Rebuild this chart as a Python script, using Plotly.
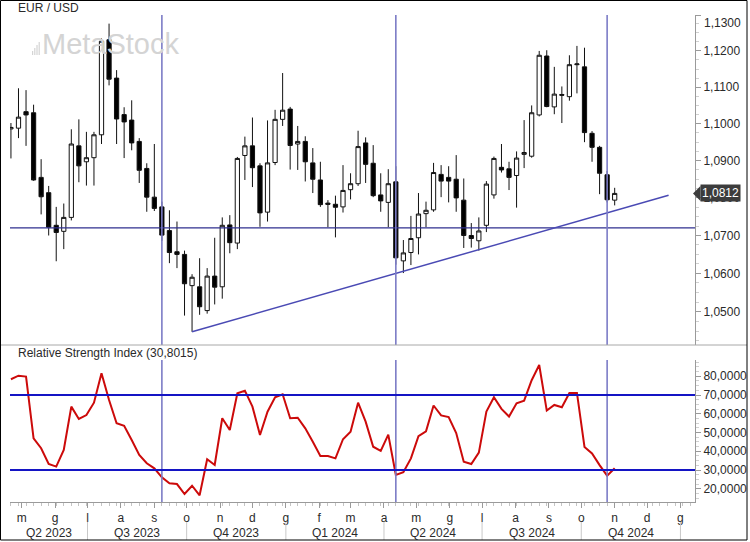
import math
import pandas as pd
import plotly.graph_objects as go

# ---------------- data ----------------
dates = pd.date_range('2023-04-21', periods=81, freq='7D')  # weekly bars (Friday)

open_ = [1.0986, 1.0988, 1.1033, 1.1030, 1.0855, 1.0814, 1.0727, 1.0711, 1.0748, 1.0940,
         1.0897, 1.0908, 1.0970, 1.1231, 1.1125, 1.1025, 1.1010, 1.0952, 1.0879, 1.0802,
         1.0776, 1.0713, 1.0657, 1.0650, 1.0568, 1.0565, 1.0503, 1.0593, 1.0565, 1.0728,
         1.0680, 1.0914, 1.0940, 1.0886, 1.0762, 1.0895, 1.1012, 1.1040, 1.0945, 1.0952,
         1.0894, 1.0848, 1.0786, 1.0783, 1.0776, 1.0822, 1.0838, 1.0948, 1.0893, 1.0808,
         1.0788, 1.0843, 1.0633, 1.0655, 1.0694, 1.0758, 1.0768, 1.0863, 1.0855, 1.0850,
         1.0794, 1.0700, 1.0686, 1.0727, 1.0808, 1.0882, 1.0878, 1.0860, 1.0917, 1.0912,
         1.1024, 1.1186, 1.1046, 1.1080, 1.1074, 1.1162, 1.1156, 1.0974, 1.0936, 1.0862,
         1.0794]
high = [1.1002, 1.1097, 1.1092, 1.1052, 1.0904, 1.0832, 1.0776, 1.0785, 1.0985, 1.1012,
        1.0978, 1.0978, 1.1235, 1.1276, 1.1147, 1.1045, 1.1064, 1.0961, 1.0893, 1.0945,
        1.0790, 1.0767, 1.0737, 1.0660, 1.0598, 1.0640, 1.0614, 1.0694, 1.0748, 1.0754,
        1.0910, 1.0965, 1.1017, 1.0893, 1.1009, 1.1038, 1.1139, 1.1046, 1.0994, 1.0966,
        1.0934, 1.0897, 1.0794, 1.0806, 1.0888, 1.0866, 1.0981, 1.0963, 1.0942, 1.0866,
        1.0877, 1.0885, 1.0688, 1.0752, 1.0813, 1.0790, 1.0894, 1.0888, 1.0885, 1.0915,
        1.0852, 1.0733, 1.0748, 1.0845, 1.0911, 1.0945, 1.0897, 1.0925, 1.1010, 1.1050,
        1.1200, 1.1202, 1.1156, 1.1102, 1.1188, 1.1214, 1.1209, 1.0980, 1.0940, 1.0872,
        1.0827]
low = [1.0906, 1.0961, 1.0940, 1.0846, 1.0756, 1.0700, 1.0632, 1.0664, 1.0740, 1.0842,
       1.0833, 1.0833, 1.0945, 1.1105, 1.0945, 1.0907, 1.0928, 1.0840, 1.0763, 1.0765,
       1.0686, 1.0627, 1.0614, 1.0490, 1.0448, 1.0492, 1.0495, 1.0519, 1.0534, 1.0653,
       1.0664, 1.0848, 1.0829, 1.0723, 1.0737, 1.0888, 1.0994, 1.0876, 1.0875, 1.0844,
       1.0813, 1.0776, 1.0722, 1.0695, 1.0761, 1.0796, 1.0832, 1.0840, 1.0802, 1.0763,
       1.0722, 1.0623, 1.0601, 1.0622, 1.0650, 1.0722, 1.0763, 1.0802, 1.0788, 1.0763,
       1.0667, 1.0668, 1.0660, 1.0709, 1.0798, 1.0868, 1.0821, 1.0774, 1.0880, 1.0908,
       1.1020, 1.1045, 1.1026, 1.1002, 1.1063, 1.1083, 1.0950, 1.0897, 1.0810, 1.0788,
       1.0780]
close = [1.0990, 1.1018, 1.1024, 1.0848, 1.0803, 1.0722, 1.0708, 1.0748, 1.0945, 1.0886,
         1.0908, 1.0970, 1.1227, 1.1122, 1.1013, 1.1005, 1.0948, 1.0874, 1.0802, 1.0772,
         1.0701, 1.0655, 1.0650, 1.0573, 1.0590, 1.0513, 1.0593, 1.0564, 1.0727, 1.0681,
         1.0906, 1.0940, 1.0881, 1.0760, 1.0894, 1.1012, 1.1037, 1.0941, 1.0952, 1.0897,
         1.0850, 1.0782, 1.0783, 1.0775, 1.0820, 1.0838, 1.0938, 1.0890, 1.0806, 1.0792,
         1.0838, 1.0641, 1.0654, 1.0692, 1.0757, 1.0767, 1.0868, 1.0845, 1.0845, 1.0800,
         1.0700, 1.0692, 1.0712, 1.0837, 1.0906, 1.0875, 1.0855, 1.0907, 1.0922, 1.1030,
         1.1188, 1.1047, 1.1081, 1.1078, 1.1162, 1.1164, 1.0976, 1.0936, 1.0866, 1.0795,
         1.0812]
rsi = [78.4, 80.3, 79.8, 46.9, 41.6, 33.2, 31.8, 40.7, 63.8, 57.2,
       59.3, 65.9, 81.6, 67.3, 54.9, 53.6, 46.0, 38.0, 33.6, 30.9,
       26.1, 22.9, 22.5, 17.2, 21.6, 16.5, 35.7, 32.7, 57.6, 51.3,
       70.9, 72.3, 63.8, 48.7, 61.1, 68.8, 70.4, 57.6, 57.9, 52.2,
       45.1, 37.5, 37.5, 36.2, 46.4, 50.4, 65.9, 55.8, 42.4, 40.2,
       48.9, 27.4, 28.8, 36.2, 48.1, 50.6, 64.4, 59.1, 58.2, 49.7,
       34.4, 33.2, 39.3, 61.2, 68.8, 62.6, 58.5, 65.6, 67.0, 77.9,
       86.0, 61.7, 64.7, 63.5, 71.1, 71.1, 42.3, 38.8, 32.6, 27.0,
       30.9]

month_ticks = pd.date_range('2023-05-01', '2025-01-01', freq='MS')
month_labels = ['m', 'g', 'l', 'a', 's', 'o', 'n', 'd', 'g', 'f', 'm',
                'a', 'm', 'g', 'l', 'a', 's', 'o', 'n', 'd', 'g']
quarter_labels = ['Q2 2023', 'Q3 2023', 'Q4 2023', 'Q1 2024', 'Q2 2024', 'Q3 2024', 'Q4 2024']
quarter_bounds = ['2023-04-20', '2023-07-01', '2023-10-01', '2024-01-01',
                  '2024-04-01', '2024-07-01', '2024-10-01', '2025-01-01']
price_ticks = [1.05, 1.06, 1.07, 1.08, 1.09, 1.10, 1.11, 1.12, 1.13]
price_minor = [1.04 + 0.0025 * i for i in range(37)]
rsi_ticks = [20, 30, 40, 50, 60, 70, 80]
rsi_minor = [12.5 + 2.5 * i for i in range(31)]
rsi_levels = [70, 30]
support_level = 1.072
trend_dates = ['2023-10-06', '2024-12-21']
trend_prices = [1.0448, 1.0807]
marker_dates = ['2023-09-08', '2024-04-12', '2024-10-25']

x_range = ['2023-04-20 03:00', '2025-01-14 12:00']
price_range = [1.04139, 1.13001]
rsi_range = [12.93, 88.67]

FONT = 'Liberation Sans, Arial, sans-serif'
TXT = '#2a2a2a'
AX = '#9a9a9a'


def fmt(v, nd):
    return f'{v:.{nd}f}'.replace('.', ',')


# plot area: x 10..695, y 15..502 (pixels)
W, H = 750, 542
ML, MR, MT, MB = 10, 55, 15, 40
PW, PH = W - ML - MR, H - MT - MB


def px(xp):
    return (xp - ML) / PW


def py(yp):
    return (H - MB - yp) / PH


price_domain = [py(345), 1]
lo, hi = math.log10(price_range[0]), math.log10(price_range[1])


def price_to_paper(p):
    f = (math.log10(p) - lo) / (hi - lo)
    return price_domain[0] + f * (price_domain[1] - price_domain[0])


fig = go.Figure()

fig.add_trace(go.Candlestick(
    x=dates, open=open_, high=high, low=low, close=close,
    xaxis='x', yaxis='y', whiskerwidth=0,
    increasing=dict(fillcolor='#ffffff', line=dict(color='#111111', width=1)),
    decreasing=dict(fillcolor='#000000', line=dict(color='#111111', width=1)),
    hoverinfo='skip'))

fig.add_trace(go.Scatter(x=x_range, y=[support_level, support_level], mode='lines',
                         line=dict(color='#2f2f8f', width=1.2), xaxis='x', yaxis='y',
                         hoverinfo='skip'))
fig.add_trace(go.Scatter(x=trend_dates, y=trend_prices, mode='lines',
                         line=dict(color='#4a4ab4', width=1.5), xaxis='x', yaxis='y',
                         hoverinfo='skip'))

fig.add_trace(go.Scatter(x=dates, y=rsi, mode='lines',
                         line=dict(color='#cc0a0a', width=2), xaxis='x2', yaxis='y2',
                         hoverinfo='skip'))

shapes = []
for d in marker_dates:
    shapes.append(dict(type='line', xref='x', yref='y domain', x0=d, x1=d, y0=0, y1=1,
                       line=dict(color='#7c7cc6', width=1.6)))
    shapes.append(dict(type='line', xref='x2', yref='y2 domain', x0=d, x1=d, y0=0, y1=1,
                       line=dict(color='#7c7cc6', width=1.6)))
for lv in rsi_levels:
    shapes.append(dict(type='line', xref='paper', yref='y2', x0=0, x1=1, y0=lv, y1=lv,
                       line=dict(color='#1414c4', width=2)))
# panel separator
shapes.append(dict(type='line', xref='paper', yref='paper', x0=px(0), x1=px(747),
                   y0=py(345), y1=py(345), line=dict(color='#a8a8a8', width=1)))
# quarter separators
for qb in quarter_bounds[1:]:
    shapes.append(dict(type='line', xref='x2', yref='paper', x0=qb, x1=qb,
                       y0=py(522), y1=py(540), line=dict(color='#c8c8c8', width=1)))
# outer border
shapes.append(dict(type='rect', xref='paper', yref='paper', x0=px(0.5), x1=px(747),
                   y0=py(540), y1=py(0.5), line=dict(color='#000000', width=1)))
# watermark bars icon
for i, hgt in enumerate([4, 7, 10, 13]):
    shapes.append(dict(type='rect', xref='paper', yref='paper',
                       x0=px(32 + i * 2.2), x1=px(33.2 + i * 2.2),
                       y0=py(55), y1=py(55 - hgt), line=dict(width=0),
                       fillcolor='#d4d4d4'))
# last-price tag pointer
yc = price_to_paper(close[-1])
dy = 7.5 / PH
shapes.append(dict(type='path', xref='paper', yref='paper',
                   path=f'M {px(693)},{yc} L {px(700.5)},{yc + dy} L {px(700.5)},{yc - dy} Z',
                   fillcolor='#3c3c3c', line=dict(width=0)))

annotations = [
    dict(text='EUR / USD', xref='paper', yref='paper', x=px(16), y=py(8),
         xanchor='left', yanchor='middle', showarrow=False,
         font=dict(family=FONT, size=12, color=TXT)),
    dict(text='Relative Strength Index (30,8015)', xref='paper', yref='paper',
         x=px(16), y=py(353), xanchor='left', yanchor='middle', showarrow=False,
         font=dict(family=FONT, size=12, color=TXT)),
    dict(text='MetaStock', xref='paper', yref='paper', x=px(40), y=py(44),
         xanchor='left', yanchor='middle', showarrow=False,
         font=dict(family=FONT, size=29, color='#d4d4d4')),
    dict(text=fmt(close[-1], 4), xref='paper', yref='y', x=px(700),
         y=math.log10(close[-1]), xanchor='left', yanchor='middle', showarrow=False,
         bgcolor='#3c3c3c', borderpad=1, font=dict(family=FONT, size=12, color='#ffffff')),
    dict(text=fmt(price_ticks[-1], 4), xref='paper', yref='paper', x=px(702), y=py(23),
         xanchor='left', yanchor='middle', showarrow=False,
         font=dict(family=FONT, size=12, color=TXT)),
]
for i, q in enumerate(quarter_labels):
    a = pd.Timestamp(quarter_bounds[i])
    b = pd.Timestamp(quarter_bounds[i + 1])
    mid = a + (b - a) / 2
    annotations.append(dict(text=q, xref='x2', yref='paper', x=mid.strftime('%Y-%m-%d %H:%M'),
                            y=py(533), xanchor='center', yanchor='middle', showarrow=False,
                            font=dict(family=FONT, size=12, color=TXT)))

price_text = [fmt(v, 4) for v in price_ticks[:-1]] + ['']

fig.update_layout(
    width=W, height=H, margin=dict(l=ML, r=MR, t=MT, b=MB, autoexpand=False),
    paper_bgcolor='#ffffff', plot_bgcolor='#ffffff', showlegend=False,
    boxgap=0.2, hovermode=False,
    font=dict(family=FONT, size=12, color=TXT),
    xaxis=dict(domain=[0, 1], anchor='y', range=x_range, type='date', matches='x2',
               showticklabels=False, showgrid=False, zeroline=False, showline=False,
               ticks='', rangeslider=dict(visible=False), automargin=False),
    yaxis=dict(domain=price_domain, anchor='x', type='log', range=[lo, hi],
               side='right', tickmode='array', tickvals=price_ticks,
               ticktext=price_text, automargin=False,
               ticks='outside', ticklen=5, tickcolor=AX, showline=True, linecolor=AX,
               showgrid=False, zeroline=False, tickfont=dict(size=12, color=TXT),
               minor=dict(tickvals=price_minor, ticks='outside', ticklen=3,
                          tickcolor='#d0d0d0', showgrid=False)),
    xaxis2=dict(domain=[0, 1], anchor='y2', range=x_range, type='date', automargin=False,
                tickmode='array', tickvals=list(month_ticks), ticktext=month_labels,
                ticks='outside', ticklen=5, tickcolor=AX, showline=True, linecolor=AX,
                showgrid=False, zeroline=False, tickfont=dict(size=12, color=TXT),
                minor=dict(tickmode='linear', tick0='2023-04-21', dtick=7 * 86400000,
                           ticks='outside', ticklen=3, tickcolor='#c4c4c4', showgrid=False)),
    yaxis2=dict(domain=[0, py(360)], anchor='x2', range=rsi_range, side='right',
                tickmode='array', tickvals=rsi_ticks, automargin=False,
                ticktext=[fmt(v, 4) for v in rsi_ticks],
                ticks='outside', ticklen=5, tickcolor=AX, showline=True, linecolor=AX,
                showgrid=False, zeroline=False, tickfont=dict(size=12, color=TXT),
                minor=dict(tickvals=rsi_minor, ticks='outside', ticklen=3,
                           tickcolor='#d0d0d0', showgrid=False)),
    shapes=shapes, annotations=annotations,
)

fig.write_html(
    'out.html',
    config={'responsive': False, 'displayModeBar': False},
    post_script="document.body.style.margin='0';document.body.style.padding='0';"
                "document.documentElement.style.overflow='hidden';",
)
